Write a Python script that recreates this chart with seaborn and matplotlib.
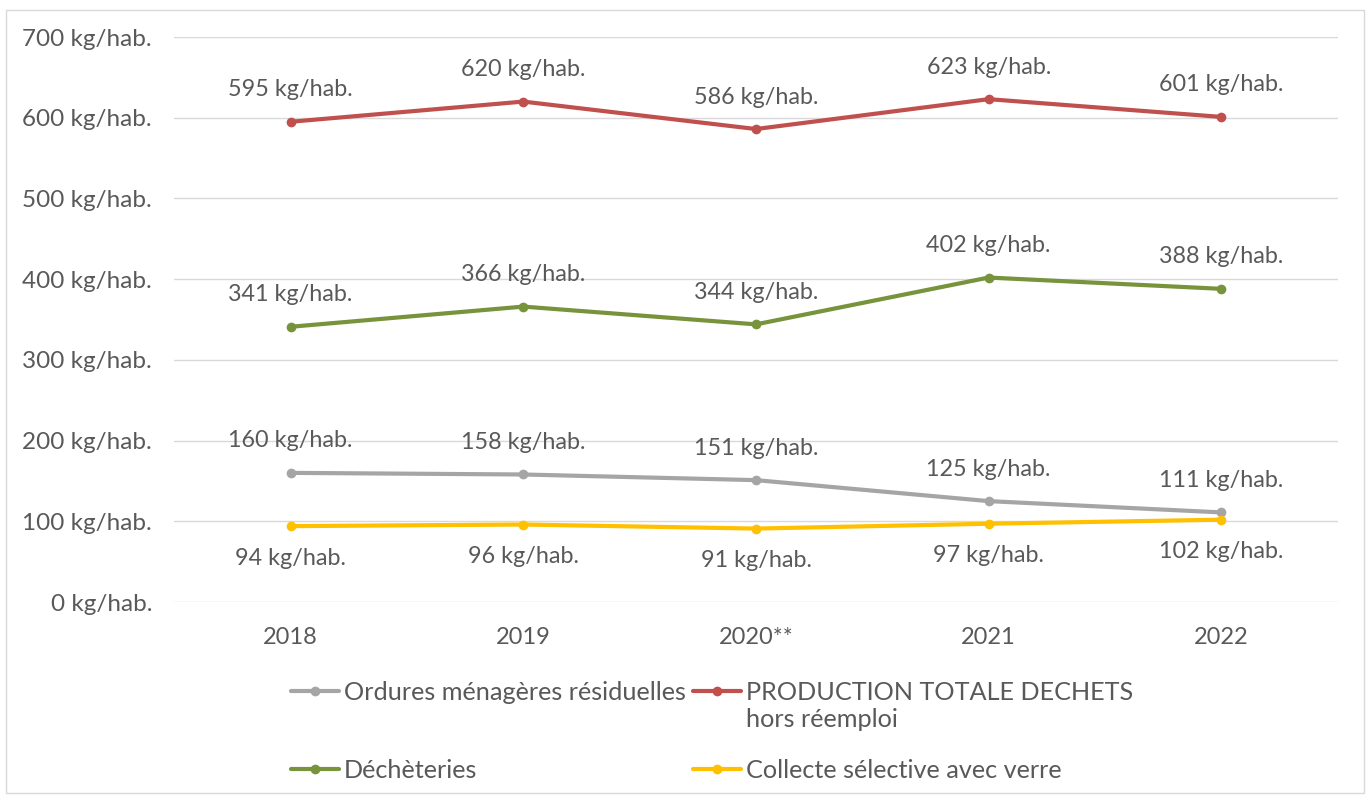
import pandas as pd
import numpy as np
import seaborn as sns
import matplotlib.pyplot as plt
from matplotlib.lines import Line2D
from matplotlib.patches import Rectangle

# data (kg per inhabitant)
years = ["2018", "2019", "2020**", "2021", "2022"]
ordures = [160, 158, 151, 125, 111]
production = [595, 620, 586, 623, 601]
decheteries = [341, 366, 344, 402, 388]
collecte = [94, 96, 91, 97, 102]

names = ["Ordures ménagères résiduelles", "PRODUCTION TOTALE DECHETS",
         "Déchèteries", "Collecte sélective avec verre"]
values = [ordures, production, decheteries, collecte]
colors = ["#A5A5A5", "#C0504D", "#77933C", "#FFC000"]
label_dy = [23, 23, 23, -23]   # label above (+) or below (-) the point, in points

df = pd.DataFrame({
    "year": np.tile(years, len(names)),
    "serie": np.repeat(names, len(years)),
    "kg": np.concatenate(values),
})

sns.set_style("white")
plt.rcParams["font.family"] = ["Lato", "DejaVu Sans"]
txt = "#595959"

fig = plt.figure(figsize=(13.72, 7.96), dpi=100)
ax = fig.add_axes([0.127, 0.2437, 0.848, 0.7098])

sns.lineplot(data=df, x="year", y="kg", hue="serie", hue_order=names,
             palette=colors, marker="o", markersize=7, markeredgewidth=0,
             linewidth=3, sort=False, legend=False, ax=ax)

for name, vals, c, dy in zip(names, values, colors, label_dy):
    for i, v in enumerate(vals):
        ax.annotate(f"{v} kg/hab.", (i, v), xytext=(0, dy), textcoords="offset points",
                    ha="center", va="center", fontsize=16.8, color=txt)

ax.set_xlim(-0.5, 4.5)
ax.set_ylim(0, 700)
ax.set_yticks(range(0, 701, 100))
ax.set_yticklabels([f"{t} kg/hab." for t in range(0, 701, 100)])
ax.yaxis.grid(True, color="#D9D9D9", linewidth=1)
ax.xaxis.grid(False)
for s in ax.spines.values():
    s.set_visible(False)
ax.tick_params(axis="y", length=0, pad=16, labelsize=17.5, labelcolor=txt)
ax.tick_params(axis="x", length=0, pad=18, labelsize=17, labelcolor=txt)
ax.set_xlabel("")
ax.set_ylabel("")

# legend: 2 columns, Excel style
handles = [Line2D([], [], color=c, linewidth=3, marker="o", markersize=7,
                  markeredgewidth=0) for c in colors]
order = [0, 2, 1, 3]
leg = fig.legend([handles[i] for i in order], [names[i] for i in order],
                 ncol=2, loc="upper left", bbox_to_anchor=(0.212, 0.145),
                 frameon=False, fontsize=18.2, handlelength=1.9,
                 handletextpad=0.2, columnspacing=0.3, labelspacing=2.2,
                 borderpad=0, borderaxespad=0)
for t in leg.get_texts():
    t.set_color(txt)

fig.canvas.draw()
bb = leg.get_texts()[2].get_window_extent()
fig.text(bb.x0 / fig.bbox.width, (bb.y0 - 4) / fig.bbox.height, "hors réemploi",
         ha="left", va="top", fontsize=18.2, color=txt)

# outer frame
fig.patches.append(Rectangle((0.0045, 0.004), 0.9895, 0.983, transform=fig.transFigure,
                             fill=False, edgecolor="#D9D9D9", linewidth=1))

fig.savefig("out.png", dpi=100)
